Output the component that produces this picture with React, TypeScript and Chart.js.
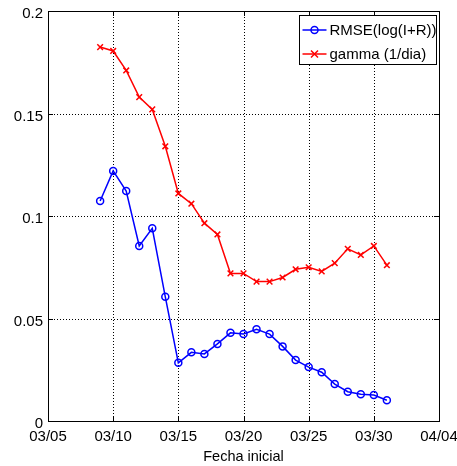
import { useEffect, useRef } from "react";
import { Chart, registerables } from "chart.js";

Chart.register(...registerables);

// Start dates of each fit window (month/day)
const startDates = [
  "03/09", "03/10", "03/11", "03/12", "03/13", "03/14", "03/15", "03/16",
  "03/17", "03/18", "03/19", "03/20", "03/21", "03/22", "03/23", "03/24",
  "03/25", "03/26", "03/27", "03/28", "03/29", "03/30", "03/31",
];

const rmse = [
  0.1073, 0.122, 0.1122, 0.0854, 0.094, 0.0606, 0.0284, 0.0335,
  0.0327, 0.0376, 0.043, 0.0424, 0.0447, 0.0424, 0.0364, 0.0297,
  0.0263, 0.0238, 0.018, 0.0143, 0.013, 0.0127, 0.0101,
];

const gamma = [
  0.1824, 0.1805, 0.171, 0.158, 0.152, 0.134, 0.111, 0.106,
  0.0965, 0.091, 0.072, 0.072, 0.068, 0.068, 0.07, 0.074,
  0.075, 0.073, 0.077, 0.084, 0.081, 0.0854, 0.076,
];

const seriesLabels = ["RMSE(log(I+R))", "gamma (1/dia)"];
const seriesColors = ["#0000ff", "#ff0000"];
const xTickLabels = ["03/05", "03/10", "03/15", "03/20", "03/25", "03/30", "04/04"];
const yTickValues = [0, 0.05, 0.1, 0.15, 0.2];
const yTickLabels = ["0", "0.05", "0.1", "0.15", "0.2"];
const xTitle = "Fecha inicial";

const FONT = "'Liberation Sans', Arial, Helvetica, sans-serif";

// "MM/DD" -> day counted from March 1st
function dayOf(label: string): number {
  const [m, d] = label.split("/").map(Number);
  return m === 3 ? d : 31 + d;
}

const xTickValues = xTickLabels.map(dayOf);

function drawMarker(ctx: CanvasRenderingContext2D, style: string, x: number, y: number, r: number) {
  ctx.beginPath();
  if (style === "circle") {
    ctx.arc(x, y, r, 0, Math.PI * 2);
  } else {
    ctx.moveTo(x - r, y - r);
    ctx.lineTo(x + r, y + r);
    ctx.moveTo(x - r, y + r);
    ctx.lineTo(x + r, y - r);
  }
  ctx.stroke();
}

// Dotted grid behind the data
const gridPlugin = {
  id: "dottedGrid",
  beforeDatasetsDraw(chart: any) {
    const { ctx, chartArea: a, scales } = chart;
    ctx.save();
    ctx.strokeStyle = "#000";
    ctx.lineWidth = 1;
    ctx.setLineDash([1, 2]);
    ctx.beginPath();
    for (const v of xTickValues.slice(1, -1)) {
      const x = Math.round(scales.x.getPixelForValue(v)) + 0.5;
      ctx.moveTo(x, a.top);
      ctx.lineTo(x, a.bottom);
    }
    for (const v of yTickValues.slice(1, -1)) {
      const y = Math.round(scales.y.getPixelForValue(v)) + 0.5;
      ctx.moveTo(a.left, y);
      ctx.lineTo(a.right, y);
    }
    ctx.stroke();
    ctx.restore();
  },
};

// Axes box with inward tick marks on all four sides
const boxPlugin = {
  id: "axesBox",
  afterDatasetsDraw(chart: any) {
    const { ctx, chartArea: a, scales } = chart;
    ctx.save();
    ctx.strokeStyle = "#000";
    ctx.lineWidth = 1;
    ctx.setLineDash([]);
    const t = 5;
    ctx.beginPath();
    for (const v of xTickValues) {
      const x = Math.round(scales.x.getPixelForValue(v)) + 0.5;
      ctx.moveTo(x, a.bottom);
      ctx.lineTo(x, a.bottom - t);
      ctx.moveTo(x, a.top);
      ctx.lineTo(x, a.top + t);
    }
    for (const v of yTickValues) {
      const y = Math.round(scales.y.getPixelForValue(v)) + 0.5;
      ctx.moveTo(a.left, y);
      ctx.lineTo(a.left + t, y);
      ctx.moveTo(a.right, y);
      ctx.lineTo(a.right - t, y);
    }
    ctx.stroke();
    ctx.strokeRect(Math.round(a.left) + 0.5, Math.round(a.top) + 0.5, Math.round(a.right - a.left), Math.round(a.bottom - a.top));
    ctx.restore();
  },
};

// Legend box in the top-right corner of the axes
const legendPlugin = {
  id: "cornerLegend",
  afterDraw(chart: any) {
    const { ctx, chartArea: a } = chart;
    const w = 137;
    const h = 49;
    const x0 = Math.round(a.right - 3 - w) + 0.5;
    const y0 = Math.round(a.top + 4) + 0.5;
    ctx.save();
    ctx.fillStyle = "#fff";
    ctx.fillRect(x0, y0, w, h);
    ctx.strokeStyle = "#000";
    ctx.lineWidth = 1;
    ctx.strokeRect(x0, y0, w, h);
    ctx.font = `15px ${FONT}`;
    ctx.textBaseline = "middle";
    ctx.textAlign = "left";
    const styles = ["circle", "crossRot"];
    seriesLabels.forEach((label, i) => {
      const cy = y0 + 14.5 + i * 24;
      ctx.strokeStyle = seriesColors[i];
      ctx.lineWidth = 1.5;
      ctx.beginPath();
      ctx.moveTo(x0 + 3, cy);
      ctx.lineTo(x0 + 27, cy);
      ctx.stroke();
      drawMarker(ctx, styles[i], x0 + 15, cy, 3.5);
      ctx.fillStyle = "#000";
      ctx.fillText(label, x0 + 30, cy + 1);
    });
    ctx.restore();
  },
};

export default function App() {
  const canvasRef = useRef<HTMLCanvasElement>(null);

  useEffect(() => {
    const canvas = canvasRef.current;
    if (!canvas) return;
    const xs = startDates.map(dayOf);
    const chart = new Chart(canvas, {
      type: "line",
      data: {
        datasets: [
          {
            label: seriesLabels[0],
            data: xs.map((x, i) => ({ x, y: rmse[i] })),
            borderColor: seriesColors[0],
            backgroundColor: "rgba(0,0,0,0)",
            borderWidth: 1.5,
            pointStyle: "circle",
            pointRadius: 3.5,
            pointBorderWidth: 1.5,
            pointBorderColor: seriesColors[0],
            pointBackgroundColor: "rgba(0,0,0,0)",
            tension: 0,
          },
          {
            label: seriesLabels[1],
            data: xs.map((x, i) => ({ x, y: gamma[i] })),
            borderColor: seriesColors[1],
            backgroundColor: "rgba(0,0,0,0)",
            borderWidth: 1.5,
            pointStyle: "crossRot",
            pointRadius: 4,
            pointBorderWidth: 1.5,
            pointBorderColor: seriesColors[1],
            tension: 0,
          },
        ],
      },
      options: {
        animation: false,
        responsive: true,
        maintainAspectRatio: false,
        layout: { padding: { left: 0, top: 11, right: 18, bottom: 0 } },
        plugins: {
          legend: { display: false },
          tooltip: { enabled: false },
        },
        scales: {
          x: {
            type: "linear",
            min: xTickValues[0],
            max: xTickValues[xTickValues.length - 1],
            afterBuildTicks: (scale: any) => {
              scale.ticks = xTickValues.map((v) => ({ value: v }));
            },
            afterFit: (scale: any) => {
              scale.height = 45;
              scale.paddingLeft = 0;
              scale.paddingRight = 0;
            },
            ticks: {
              color: "#000",
              font: { family: FONT, size: 15 },
              padding: 7,
              maxRotation: 0,
              autoSkip: false,
              callback: (v: any) => xTickLabels[xTickValues.indexOf(Number(v))] ?? "",
            },
            grid: { display: false, drawTicks: false },
            border: { display: false },
            title: {
              display: true,
              text: xTitle,
              color: "#000",
              font: { family: FONT, size: 14.5 },
              padding: { top: 0, bottom: 0 },
            },
          },
          y: {
            type: "linear",
            min: 0,
            max: 0.2,
            afterBuildTicks: (scale: any) => {
              scale.ticks = yTickValues.map((v) => ({ value: v }));
            },
            afterFit: (scale: any) => {
              scale.width = 48;
              scale.paddingTop = 0;
              scale.paddingBottom = 0;
            },
            ticks: {
              color: "#000",
              font: { family: FONT, size: 15 },
              padding: 5,
              labelOffset: 3,
              callback: (v: any) => {
                const i = yTickValues.findIndex((t) => Math.abs(t - Number(v)) < 1e-9);
                return i >= 0 ? yTickLabels[i] : "";
              },
            },
            grid: { display: false, drawTicks: false },
            border: { display: false },
          },
        },
      },
      plugins: [gridPlugin, boxPlugin, legendPlugin],
    });
    return () => chart.destroy();
  }, []);

  return (
    <div style={{ position: "absolute", left: 0, top: 0, width: 457, height: 466, background: "#fff" }}>
      <canvas ref={canvasRef} />
    </div>
  );
}
